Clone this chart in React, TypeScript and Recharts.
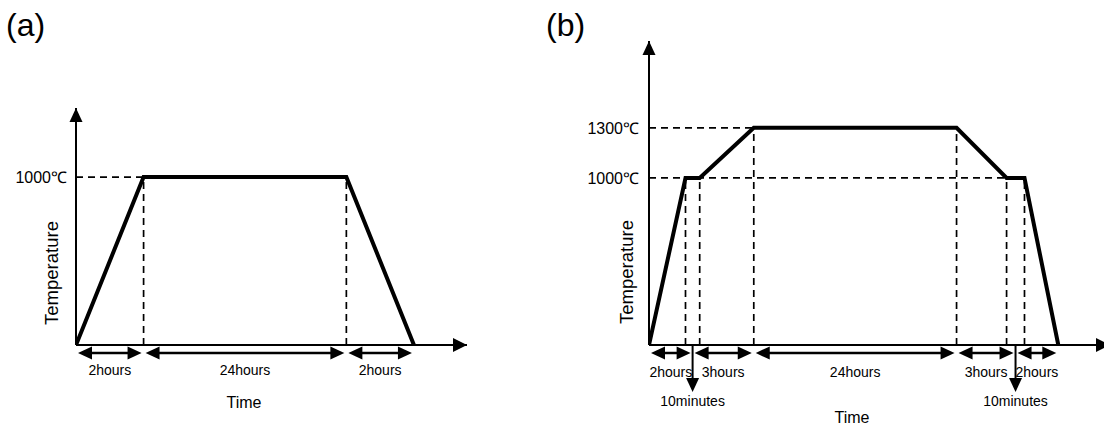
import React from 'react';
import { LineChart, Line, XAxis, YAxis, ReferenceLine, ReferenceDot } from 'recharts';

const FONT = 'Arial, "Liberation Sans", Helvetica, sans-serif';

// ---------- Panel (a) data ----------
const phaseLabelsA = ['2hours', '24hours', '2hours'];
// drawn widths of each phase on the schematic (not-to-scale) time axis
const phaseWidthsA = [2, 6, 2];
// temperature (°C) at each phase boundary
const tempsA = [0, 1000, 1000, 0];
const tempTicksA = [1000];

// ---------- Panel (b) data ----------
const phaseLabelsB = ['2hours', '10minutes', '3hours', '24hours', '3hours', '10minutes', '2hours'];
const phaseWidthsB = [1.08, 0.42, 1.6, 6, 1.48, 0.53, 1.0];
const tempsB = [0, 1000, 1000, 1300, 1300, 1000, 1000, 0];
const tempTicksB = [1000, 1300];

type Pt = { x: number; t: number };

function buildPanel(labels: string[], widths: number[], temps: number[]) {
  const xs: number[] = [0];
  widths.forEach((w) => xs.push(xs[xs.length - 1] + w));
  const points: Pt[] = xs.map((x, i) => ({ x, t: temps[i] }));
  const short = labels.map((l) => l.includes('minutes'));
  const mid = (i: number) => (xs[i] + xs[i + 1]) / 2;
  const spans: { s: number; e: number; label: string }[] = [];
  const markers: { x: number; label: string }[] = [];
  labels.forEach((label, i) => {
    if (short[i]) {
      markers.push({ x: mid(i), label });
    } else {
      const s = i > 0 && short[i - 1] ? mid(i - 1) : xs[i];
      const e = i < labels.length - 1 && short[i + 1] ? mid(i + 1) : xs[i + 1];
      spans.push({ s, e, label });
    }
  });
  const vGuides = points.slice(1, -1);
  const levels = Array.from(new Set(temps.filter((t) => t > 0)));
  const hGuides = levels.map((L) => {
    let to = 0;
    points.forEach((p, i) => {
      if (i > 0 && p.t === L && points[i - 1].t !== L) to = p.x;
    });
    return { t: L, to };
  });
  return { points, spans, markers, vGuides, hGuides };
}

type Layout = {
  left: number;
  width: number;
  height: number;
  margin: { top: number; right: number; bottom: number; left: number };
  yAxisWidth: number;
  tickMargin: number;
  xMax: number;
  yMax: number;
  labelDy: number;
};

const layoutA: Layout = {
  left: 0,
  width: 480,
  height: 427,
  margin: { top: 108, right: 13, bottom: 82, left: 0 },
  yAxisWidth: 76,
  tickMargin: 3,
  xMax: 11.57,
  yMax: 1411,
  labelDy: 30,
};

const layoutB: Layout = {
  left: 500,
  width: 614,
  height: 427,
  margin: { top: 41, right: 4, bottom: 82, left: 0 },
  yAxisWidth: 149,
  tickMargin: 4,
  xMax: 13.64,
  yMax: 1820,
  labelDy: 32,
};

const makeDoubleArrow = (label: string, labelDy: number) => (p: any) => {
  const { x1, x2, y1 } = p;
  const y = y1 + 8;
  const a = x1 + 2;
  const b = x2 - 2;
  const L = 14;
  const H = 6.6;
  return (
    <g>
      <line x1={a + L - 1} x2={b - L + 1} y1={y} y2={y} stroke="#000" strokeWidth={2.5} />
      <polygon points={`${a},${y} ${a + L},${y - H} ${a + L},${y + H}`} fill="#000" />
      <polygon points={`${b},${y} ${b - L},${y - H} ${b - L},${y + H}`} fill="#000" />
      <text x={(x1 + x2) / 2} y={y1 + labelDy} textAnchor="middle" fontSize={14} fontFamily={FONT} fill="#000">
        {label}
      </text>
    </g>
  );
};

const makeDownArrow = (label: string) => (p: any) => {
  const { cx, cy } = p;
  const tip = cy + 47;
  return (
    <g>
      <line x1={cx} x2={cx} y1={cy} y2={tip - 10} stroke="#000" strokeWidth={2} />
      <polygon points={`${cx},${tip} ${cx - 6.5},${tip - 14} ${cx + 6.5},${tip - 14}`} fill="#000" />
      <text x={cx} y={cy + 61} textAnchor="middle" fontSize={14} fontFamily={FONT} fill="#000">
        {label}
      </text>
    </g>
  );
};

const upArrowHead = (p: any) => {
  const { cx, cy } = p;
  return <polygon points={`${cx},${cy} ${cx - 6.5},${cy + 14} ${cx + 6.5},${cy + 14}`} fill="#000" />;
};

const rightArrowHead = (p: any) => {
  const { cx, cy } = p;
  return <polygon points={`${cx},${cy} ${cx - 14},${cy - 7} ${cx - 14},${cy + 7}`} fill="#000" />;
};

function Panel({
  labels,
  widths,
  temps,
  ticks,
  layout,
}: {
  labels: string[];
  widths: number[];
  temps: number[];
  ticks: number[];
  layout: Layout;
}) {
  const { points, spans, markers, vGuides, hGuides } = buildPanel(labels, widths, temps);
  const dash = '7 5';
  return (
    <div style={{ position: 'absolute', left: layout.left, top: 0 }}>
      <LineChart width={layout.width} height={layout.height} data={points} margin={layout.margin}>
        <XAxis dataKey="x" type="number" domain={[0, layout.xMax]} hide allowDataOverflow />
        <YAxis
          type="number"
          domain={[0, layout.yMax]}
          ticks={ticks}
          interval={0}
          width={layout.yAxisWidth}
          tickLine={false}
          tickMargin={layout.tickMargin}
          axisLine={{ stroke: '#000', strokeWidth: 2 }}
          tick={{ fill: '#000', fontSize: 16, fontFamily: FONT }}
          tickFormatter={(v: number) => `${v}℃`}
          allowDataOverflow
        />
        {hGuides.map((g, i) => (
          <ReferenceLine
            key={`h${i}`}
            segment={[
              { x: 0, y: g.t },
              { x: g.to, y: g.t },
            ]}
            stroke="#000"
            strokeWidth={1.7}
            strokeDasharray={dash}
          />
        ))}
        {vGuides.map((p, i) => (
          <ReferenceLine
            key={`v${i}`}
            segment={[
              { x: p.x, y: 0 },
              { x: p.x, y: p.t },
            ]}
            stroke="#000"
            strokeWidth={1.7}
            strokeDasharray={dash}
          />
        ))}
        <ReferenceLine y={0} stroke="#000" strokeWidth={2} />
        <ReferenceDot x={layout.xMax} y={0} shape={rightArrowHead} />
        <ReferenceDot x={0} y={layout.yMax} shape={upArrowHead} />
        {spans.map((s, i) => (
          <ReferenceLine
            key={`s${i}`}
            segment={[
              { x: s.s, y: 0 },
              { x: s.e, y: 0 },
            ]}
            shape={makeDoubleArrow(s.label, layout.labelDy)}
          />
        ))}
        {markers.map((m, i) => (
          <ReferenceDot key={`m${i}`} x={m.x} y={0} shape={makeDownArrow(m.label)} />
        ))}
        <Line
          type="linear"
          dataKey="t"
          stroke="#000"
          strokeWidth={4}
          dot={false}
          activeDot={false}
          isAnimationActive={false}
        />
      </LineChart>
    </div>
  );
}

export default function App() {
  return (
    <div
      style={{
        position: 'absolute',
        left: 0,
        top: 0,
        width: 1104,
        height: 427,
        overflow: 'hidden',
        background: '#fff',
        fontFamily: FONT,
      }}
    >
      <Panel labels={phaseLabelsA} widths={phaseWidthsA} temps={tempsA} ticks={tempTicksA} layout={layoutA} />
      <Panel labels={phaseLabelsB} widths={phaseWidthsB} temps={tempsB} ticks={tempTicksB} layout={layoutB} />
      <svg
        width={1104}
        height={427}
        style={{ position: 'absolute', left: 0, top: 0, pointerEvents: 'none' }}
      >
        <text x={6} y={36} fontSize={32} fontFamily={FONT} fill="#000">
          (a)
        </text>
        <text x={546} y={36} fontSize={32} fontFamily={FONT} fill="#000">
          (b)
        </text>
        <text
          transform="translate(51,273) rotate(-90)"
          textAnchor="middle"
          dominantBaseline="central"
          fontSize={18.5}
          fontFamily={FONT}
          fill="#000"
        >
          Temperature
        </text>
        <text
          transform="translate(626,272) rotate(-90)"
          textAnchor="middle"
          dominantBaseline="central"
          fontSize={18.5}
          fontFamily={FONT}
          fill="#000"
        >
          Temperature
        </text>
        <text x={244} y={408} textAnchor="middle" fontSize={16} fontFamily={FONT} fill="#000">
          Time
        </text>
        <text x={852} y={423} textAnchor="middle" fontSize={16} fontFamily={FONT} fill="#000">
          Time
        </text>
      </svg>
    </div>
  );
}
